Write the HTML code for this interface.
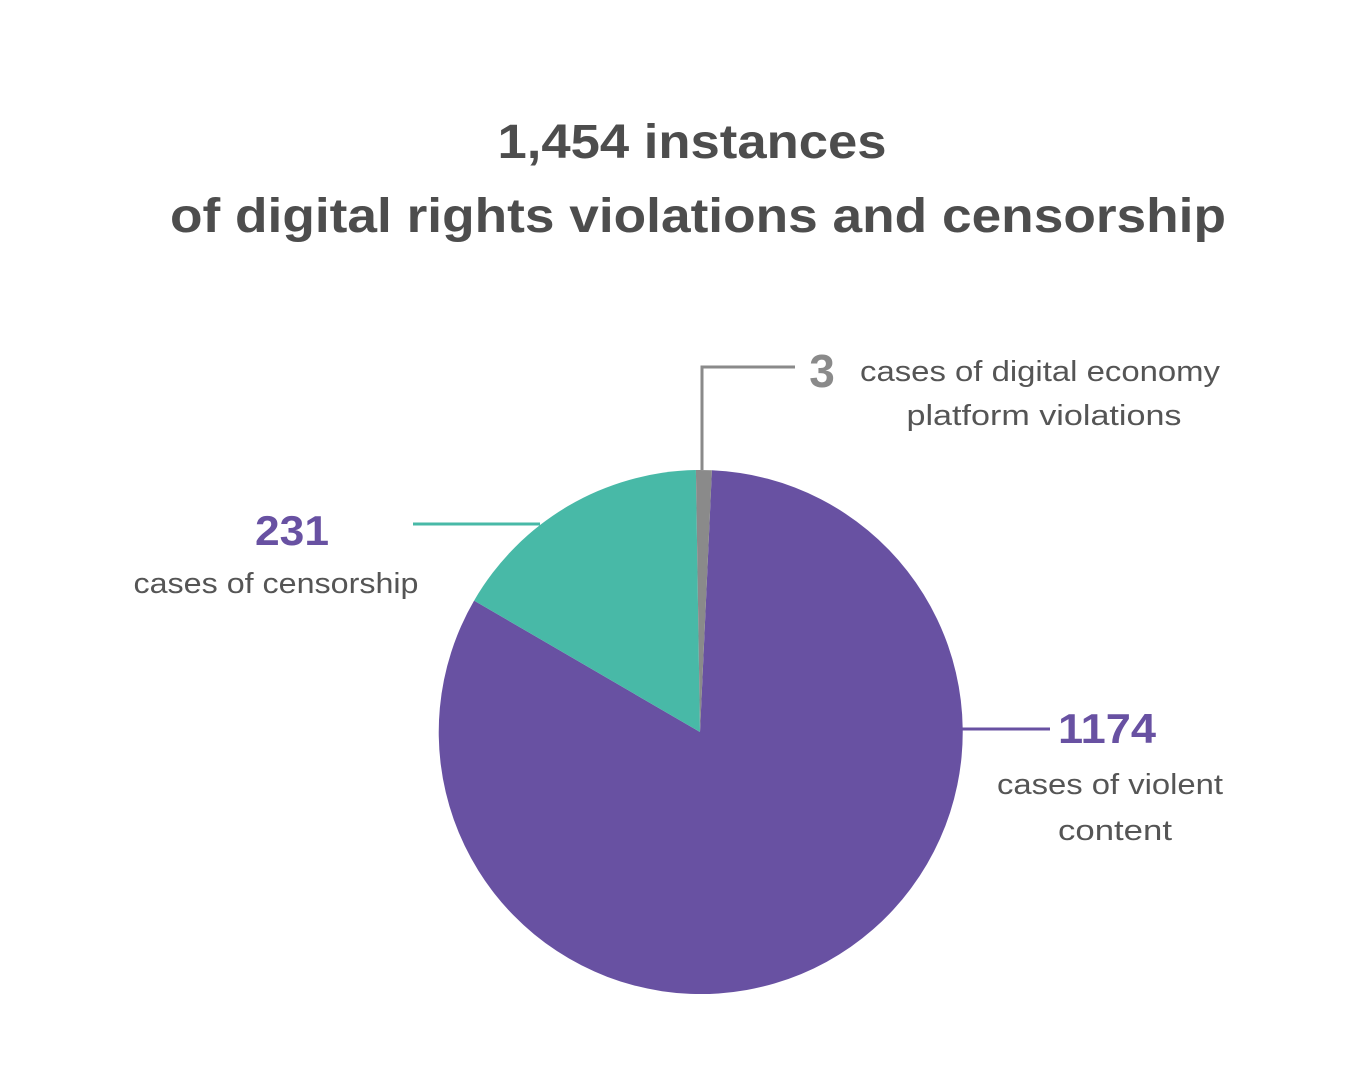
<!DOCTYPE html>
<html><head><meta charset="utf-8"><style>
html,body{margin:0;padding:0;background:#fff;}
svg{display:block;}
</style></head><body>
<svg width="1350" height="1080" viewBox="0 0 1350 1080" xmlns="http://www.w3.org/2000/svg">
<g font-family="Liberation Sans, sans-serif" fill="#4d4d4d" font-weight="bold" text-anchor="middle">
<text x="692" y="158" font-size="48" textLength="389" lengthAdjust="spacingAndGlyphs">1,454 instances</text>
<text x="698" y="232" font-size="48" textLength="1056" lengthAdjust="spacingAndGlyphs">of digital rights violations and censorship</text>
</g>
<path d="M700,732 L711.9,470.3 A262,262 0 1 1 474.1,600.6 Z" fill="#6851a2"/>
<path d="M700,732 L474.1,600.6 A262,262 0 0 1 695.9,470.0 Z" fill="#48b9a7"/>
<path d="M700,732 L695.9,470.0 A262,262 0 0 1 711.9,470.3 Z" fill="#8a8a8a"/>
<polyline points="702,470 702,367 795,367" fill="none" stroke="#8a8a8a" stroke-width="3"/>
<line x1="413" y1="524" x2="540" y2="524" stroke="#48b9a7" stroke-width="3"/>
<line x1="962" y1="729" x2="1050" y2="729" stroke="#6851a2" stroke-width="3"/>
<g font-family="Liberation Sans, sans-serif">
<text x="822" y="387" font-size="46" font-weight="bold" fill="#8a8a8a" text-anchor="middle">3</text>
<text x="1040" y="381" font-size="29" fill="#555" text-anchor="middle" textLength="360" lengthAdjust="spacingAndGlyphs">cases of digital economy</text>
<text x="1044" y="425" font-size="29" fill="#555" text-anchor="middle" textLength="275" lengthAdjust="spacingAndGlyphs">platform violations</text>
<text x="292" y="545" font-size="42" font-weight="bold" fill="#6851a2" text-anchor="middle" textLength="74" lengthAdjust="spacingAndGlyphs">231</text>
<text x="276" y="593" font-size="29" fill="#555" text-anchor="middle" textLength="285" lengthAdjust="spacingAndGlyphs">cases of censorship</text>
<text x="1107" y="743" font-size="42" font-weight="bold" fill="#6851a2" text-anchor="middle" textLength="98" lengthAdjust="spacingAndGlyphs">1174</text>
<text x="1110" y="794" font-size="29" fill="#555" text-anchor="middle" textLength="226" lengthAdjust="spacingAndGlyphs">cases of violent</text>
<text x="1115" y="840" font-size="29" fill="#555" text-anchor="middle" textLength="114" lengthAdjust="spacingAndGlyphs">content</text>
</g>
</svg>
</body></html>
